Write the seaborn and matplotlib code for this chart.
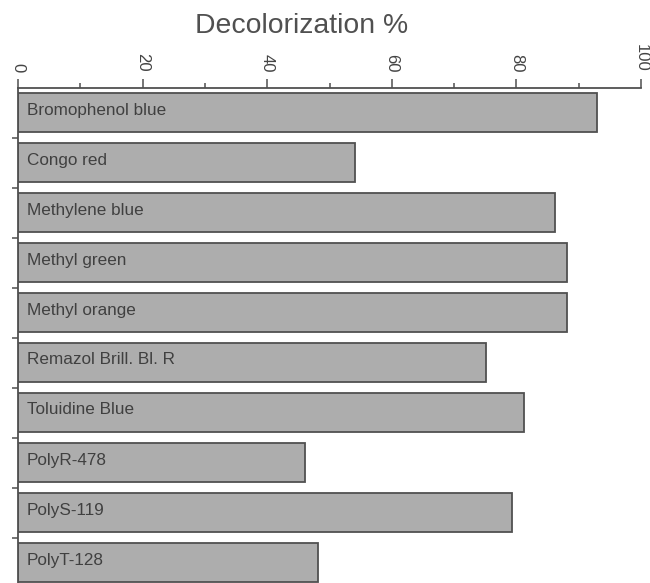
import matplotlib
matplotlib.use("Agg")
import matplotlib.pyplot as plt
from matplotlib.ticker import MultipleLocator, FixedLocator, NullFormatter
import seaborn as sns
import pandas as pd

dyes = ["Bromophenol blue", "Congo red", "Methylene blue", "Methyl green",
        "Methyl orange", "Remazol Brill. Bl. R", "Toluidine Blue",
        "PolyR-478", "PolyS-119", "PolyT-128"]
decolorization = [93.0, 54.1, 86.2, 88.2, 88.2, 75.2, 81.2, 46.1, 79.3, 48.2]
x_ticks = [0, 20, 40, 60, 80, 100]

sns.set_style("white")
plt.rcParams["font.family"] = ["Liberation Sans", "DejaVu Sans"]

df = pd.DataFrame({"dye": dyes, "value": decolorization})

W, H = 650, 583
fig = plt.figure(figsize=(W / 100, H / 100), dpi=100)
left, right, top, bottom = 18, 641, 88, 583
ax = fig.add_axes([left / W, 1 - bottom / H, (right - left) / W, (bottom - top) / H])

ink = "#505050"
sns.barplot(data=df, x="value", y="dye", orient="h", ax=ax,
            color="#adadad", saturation=1, width=0.78,
            edgecolor=ink, linewidth=1.3)

ax.set_xlim(0, 100)
ax.set_ylim(9.41, -0.49)

# value axis along the top, labels turned on their side
ax.xaxis.set_ticks_position("top")
ax.xaxis.set_label_position("top")
ax.set_xticks(x_ticks)
ax.set_xticklabels([str(t) for t in x_ticks], rotation=-90, fontsize=12, color="#444444")
ax.xaxis.set_minor_locator(MultipleLocator(10))
ax.tick_params(axis="x", which="major", direction="out", length=6.5, width=1.1,
               color=ink, pad=5)
ax.tick_params(axis="x", which="minor", direction="out", length=3.5, width=1.1, color=ink)

# category ticks sit on the boundaries between bars
ax.yaxis.set_major_locator(FixedLocator([i + 0.5 for i in range(len(dyes))]))
ax.yaxis.set_major_formatter(NullFormatter())
ax.tick_params(axis="y", which="major", direction="out", length=4, width=1.1,
               color=ink, left=True)
ax.set_xlabel("")
ax.set_ylabel("")

for s in ["right", "bottom"]:
    ax.spines[s].set_visible(False)
for s in ["top", "left"]:
    ax.spines[s].set_color(ink)
    ax.spines[s].set_linewidth(1.3)

for i, name in enumerate(dyes):
    ax.text(1.45, i - 0.05, name, va="center", ha="left", fontsize=12.3, color="#404040")

fig.text(302 / W, 1 - 33 / H, "Decolorization %", ha="center", va="baseline",
         fontsize=20.4, color="#505050")

fig.savefig("out.png", dpi=100)
